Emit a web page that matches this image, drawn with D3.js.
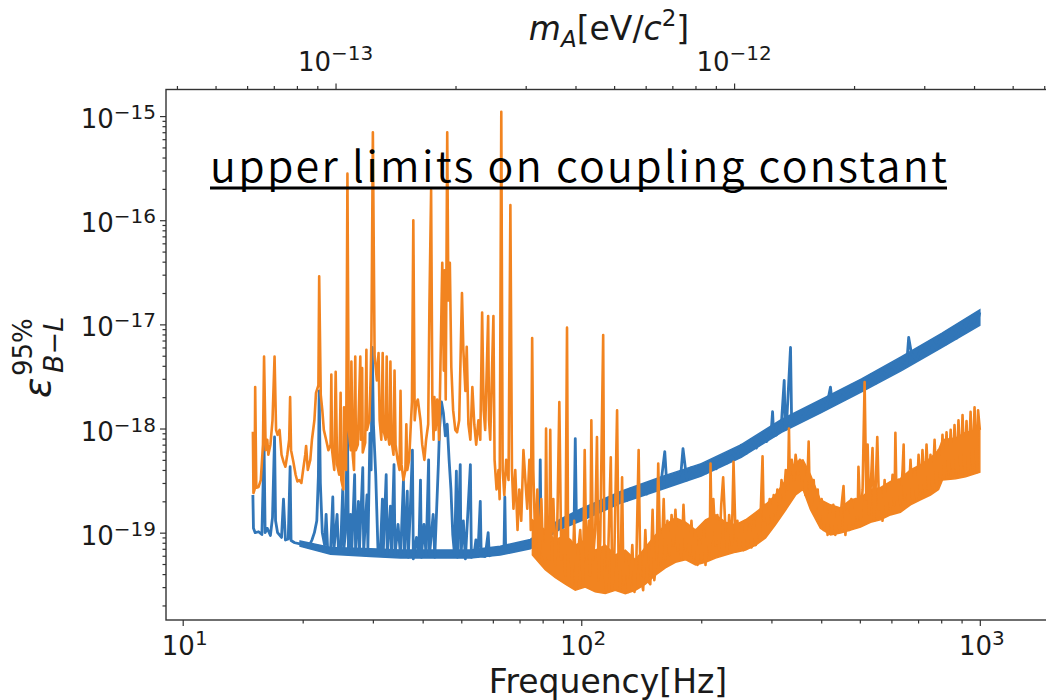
<!DOCTYPE html>
<html>
<head>
<meta charset="utf-8">
<script src="https://cdn.jsdelivr.net/npm/d3@7"></script>
<style>
  body { margin: 0; background: #fff; }
  svg { display: block; }
  text { font-family: "DejaVu Sans", sans-serif; fill: #1a1a1a; }
</style>
</head>
<body>
<svg id="chart" width="1046" height="700"></svg>
<script>
// ---- data: [frequency Hz, epsilon 95% upper limit] ----
const blueSeries = [
  [15.0,2.3e-19],[15.05,1.1e-19],[15.2,1.0e-19],[15.5,1.02e-19],[15.8,9.6e-20],[16.0,6.9e-19],[16.1,1.0e-19],[16.3,1.1e-19],
  [16.6,9.4e-20],[16.8,1.4e-19],[17.0,8.3e-19],[17.1,1.3e-19],[17.3,1.0e-19],[17.7,9.0e-20],[17.9,2.1e-19],[18.1,8.5e-20],
  [18.4,8.7e-20],[18.6,4.3e-19],[18.7,8.4e-20],[19.1,8.0e-20],[19.7,7.8e-20],[20.3,7.6e-20],[20.7,7.3e-20],[21.1,8.5e-20],
  [21.4,1.0e-19],[21.7,1.3e-19],[21.9,3.5e-19],[22.0,2.3e-18],[22.15,3.0e-19],[22.4,1.0e-19],[22.7,7.6e-20],[22.9,1.5e-19],
  [23.1,7.0e-20],[23.5,6.8e-20],[23.8,2.2e-19],[23.95,6.8e-20],[24.4,1.5e-19],[24.6,6.6e-20],[24.9,6.8e-20],[25.2,2.6e-19],
  [25.35,6.7e-20],[25.6,1.0e-19],[25.9,1.1e-18],[26.05,6.5e-20],[26.4,1.5e-19],[26.55,6.5e-20],[27.0,3.6e-19],[27.15,6.6e-20],
  [27.6,2.0e-19],[27.75,6.5e-20],[28.3,4.2e-19],[28.45,6.6e-20],[29.0,2.3e-19],[29.15,7.0e-20],[29.5,9.0e-19],[29.7,4.0e-19],
  [29.9,6.0e-18],[30.1,1.1e-18],[30.5,3.6e-19],[30.9,6.8e-20],[31.3,6.2e-20],[31.7,2.1e-19],[31.85,6.3e-20],[32.4,3.6e-19],
  [32.6,6.1e-20],[33.2,1.8e-19],[33.4,6.0e-20],[33.9,4.5e-19],[34.1,6.1e-20],[34.7,1.2e-19],[35.2,5.9e-20],[35.8,3.2e-19],
  [36.0,5.9e-20],[36.6,2.5e-19],[36.8,5.8e-20],[37.2,1.5e-19],[37.7,6.2e-19],[37.9,5.6e-20],[38.6,9.0e-20],[39.1,6.0e-20],
  [39.5,3.2e-19],[39.7,5.8e-20],[40.3,1.2e-19],[40.8,6.0e-20],[41.4,5.0e-19],[41.6,6.0e-20],[42.5,1.5e-19],[42.9,5.8e-20],
  [43.8,4.5e-19],[44.1,1.0e-18],[44.6,1.8e-18],[45.1,1.4e-18],[45.6,8.5e-19],[46.1,1.1e-18],[46.6,5.0e-19],[47.1,2.6e-19],
  [47.6,9.5e-20],[48.1,6.1e-20],[48.6,3.9e-19],[48.9,5.8e-20],[49.7,4.5e-19],[49.9,6.0e-20],[50.6,1.3e-19],[51.2,5.6e-20],
  [52.7,4.5e-19],[53.0,5.8e-20],[53.8,6.0e-20],[54.4,8.5e-20],[55.0,5.9e-20],[55.8,2.0e-19],[56.1,6.0e-20],[57.4,5.9e-20],
  [58.4,1.0e-19],[58.8,6.0e-20],[60.9,6.4e-20],[62.6,6.8e-20],[64.0,7.0e-20],[64.3,2.2e-19],[64.6,7.0e-20],[66.4,7.1e-20],
  [68.3,7.3e-20],[70.3,7.5e-20],[72.4,7.8e-20],[74.5,8.0e-20],[76.7,8.6e-20],[78.5,9.0e-20],[78.9,5.0e-19],[79.3,9.2e-20],
  [81.2,9.8e-20],[83.6,1.05e-19],[86.1,1.12e-19],[88.6,1.2e-19],[91.2,1.3e-19],[93.8,1.38e-19],[96.0,1.45e-19],[96.6,8.0e-19],
  [97.2,1.5e-19],[100,1.66e-19],[103,1.39e-19],[106,1.85e-19],[109,1.55e-19],[112,2.03e-19],[115,1.7e-19],[119,2.2e-19],
  [122,1.85e-19],[126,2.4e-19],[130,2.03e-19],[133,2.65e-19],[137,2.2e-19],[141,2.85e-19],[146,2.35e-19],[150,3.1e-19],
  [154,2.55e-19],[159,3.3e-19],[162,6.0e-19],[164,2.8e-19],[168,3.6e-19],[173,3.0e-19],[178,3.85e-19],[180,6.4e-19],
  [184,3.2e-19],[189,4.2e-19],[195,3.45e-19],[200,4.5e-19],[206,3.75e-19],[212,4.9e-19],[218,4.1e-19],[225,5.4e-19],
  [231,4.6e-19],[238,6.1e-19],[245,5.2e-19],[252,6.9e-19],[260,5.8e-19],[267,7.8e-19],[275,6.5e-19],[283,8.7e-19],
  [292,7.5e-19],[300,1.0e-18],[302,1.45e-18],[304,8.5e-19],[309,8.7e-19],[318,1.16e-18],[323,2.9e-18],[325,1.0e-18],
  [327,9.9e-19],[335,6.0e-18],[337,1.3e-18],[347,1.12e-18],[357,1.47e-18],[367,1.25e-18],[378,1.64e-18],[389,1.4e-18],
  [400,1.85e-18],[412,1.57e-18],[422,2.5e-18],[424,2.1e-18],[437,1.8e-18],[450,2.3e-18],[463,2.0e-18],[476,2.6e-18],
  [490,2.2e-18],[505,2.85e-18],[520,2.45e-18],[535,3.3e-18],[550,2.75e-18],[566,3.6e-18],[583,3.2e-18],[600,4.2e-18],
  [618,3.5e-18],[636,4.6e-18],[655,4.0e-18],[663,7.5e-18],[674,5.2e-18],[694,4.5e-18],[714,6.1e-18],[735,5.2e-18],
  [757,7.0e-18],[779,5.8e-18],[802,7.8e-18],[825,6.5e-18],[850,8.8e-18],[875,7.4e-18],[900,9.9e-18],[926,8.5e-18],
  [953,1.12e-17],[981,9.7e-18],[1000,1.3e-17]
];

// dense noise floor of the blue trace: [frequency Hz, lower edge, upper edge]
const blueBand = [
  [19.7,7.4e-20,8.3e-20],[23.5,6.2e-20,7.2e-20],[29.6,5.9e-20,7.0e-20],[35.2,5.7e-20,6.8e-20],[44.3,5.7e-20,6.8e-20],
  [52.7,5.7e-20,6.8e-20],[62.6,6.1e-20,7.4e-20],[74.5,7.0e-20,8.6e-20],[88.6,1.08e-19,1.35e-19],[100,1.3e-19,1.7e-19],
  [126,1.93e-19,2.5e-19],[159,2.6e-19,3.45e-19],[200,3.5e-19,4.6e-19],[252,5.3e-19,7.0e-19],[318,9.2e-19,1.22e-18],
  [400,1.42e-18,1.9e-18],[505,2.25e-18,3.0e-18],[636,3.6e-18,4.9e-18],[802,6.0e-18,8.2e-18],[1000,9.8e-18,1.38e-17]
];

const orangeSeries = [
  [15.0,9.3e-19],[15.05,2.4e-19],[15.15,2.6e-19],[15.2,2.5e-18],[15.3,2.7e-19],[15.5,2.75e-19],[15.7,3.2e-19],[15.9,7.0e-19],
  [16.0,4.9e-18],[16.15,6.2e-19],[16.3,7.8e-19],[16.4,5.6e-19],[16.6,7.0e-19],[16.8,1.2e-18],[17.0,4.9e-18],[17.15,9.7e-19],
  [17.3,8.7e-19],[17.5,9.7e-19],[17.7,5.6e-19],[17.9,4.8e-19],[18.1,4.3e-19],[18.3,5.6e-19],[18.5,7.8e-19],[18.6,2.0e-18],
  [18.7,6.2e-19],[18.95,4.8e-19],[19.2,3.6e-19],[19.4,3.1e-19],[19.6,3.2e-19],[19.85,3.0e-19],[20.05,4.0e-19],[20.3,5.6e-19],
  [20.4,6.8e-19],[20.6,4.0e-19],[20.9,5.0e-19],[21.1,7.8e-19],[21.4,1.2e-18],[21.6,2.2e-18],[21.9,2.6e-18],[22.0,2.9e-17],
  [22.2,2.1e-18],[22.4,1.5e-18],[22.6,9.7e-19],[22.9,7.8e-19],[23.2,6.2e-19],[23.5,7.0e-19],[23.6,3.3e-18],[23.7,6.2e-19],
  [24.0,4.0e-19],[24.2,3.5e-18],[24.4,4.5e-19],[24.7,3.6e-19],[24.9,2.2e-18],[25.0,3.2e-19],[25.3,2.6e-19],[25.4,1.6e-18],
  [25.7,4.0e-19],[25.9,2.8e-16],[26.1,9.7e-19],[26.4,6.2e-19],[26.5,4.4e-18],[26.7,5.6e-19],[26.9,4.0e-19],[27.1,4.9e-18],
  [27.2,6.2e-19],[27.5,7.0e-19],[27.9,4.9e-18],[28.0,7.8e-19],[28.2,3.8e-18],[28.3,5.9e-19],[28.7,7.3e-19],[28.9,5.7e-18],
  [29.0,9.7e-19],[29.4,1.2e-18],[29.6,2.9e-18],[29.75,7.1e-18],[30.0,7.0e-16],[30.3,5.1e-18],[30.7,2.9e-18],[31.0,5.3e-18],
  [31.2,1.2e-18],[31.5,7.8e-19],[31.75,5.3e-18],[31.9,9.7e-19],[32.3,7.8e-19],[32.5,4.9e-18],[32.6,9.7e-19],[33.0,7.0e-19],
  [33.2,4.4e-18],[33.4,7.8e-19],[33.8,5.6e-19],[34.0,3.6e-18],[34.2,7.0e-19],[34.6,5.0e-19],[35.0,4.0e-19],[35.2,2.3e-18],
  [35.4,4.5e-19],[35.8,3.2e-19],[36.2,4.0e-19],[36.4,1.1e-18],[36.6,4.0e-19],[37.0,5.0e-19],[37.4,1.2e-18],[37.6,1.8e-18],
  [37.9,1.0e-16],[38.2,1.2e-18],[38.5,1.7e-18],[38.9,1.9e-18],[39.5,1.2e-18],[39.9,7.0e-19],[40.4,5.0e-19],[40.8,7.8e-19],
  [41.3,1.1e-18],[41.6,1.6e-17],[42.0,1.95e-16],[42.3,1.9e-18],[42.6,7.8e-19],[42.8,2.0e-18],[43.1,9.7e-19],[43.5,1.9e-18],
  [44.0,7.8e-19],[44.8,3.9e-17],[45.2,3.6e-18],[45.4,3.3e-17],[45.7,1.9e-18],[46.1,7.0e-16],[46.4,1.7e-17],[46.8,3.9e-17],
  [47.2,3.9e-18],[47.7,1.5e-18],[48.3,9.7e-19],[48.8,9.2e-19],[49.4,1.2e-18],[50.2,2.0e-17],[50.6,5.7e-18],[51.2,2.3e-18],
  [51.6,6.1e-18],[52.1,1.1e-18],[52.7,7.8e-19],[53.3,2.5e-18],[53.9,1.1e-18],[54.5,7.0e-19],[55.2,1.2e-18],[55.8,7.8e-19],
  [56.4,1.3e-17],[56.9,1.5e-18],[57.4,9.7e-19],[58.4,1.2e-17],[58.7,1.2e-18],[59.1,7.8e-19],[60.2,1.2e-17],[60.6,5.0e-19],
  [61.3,2.6e-19],[62.0,4.0e-19],[62.4,2.1e-19],[63.0,1.1e-15],[63.5,4.0e-19],[64.1,2.3e-19],[64.8,5.0e-19],[65.7,3.2e-19],
  [66.4,1.4e-16],[67.0,4.0e-19],[67.6,1.7e-19],[68.3,4.0e-19],[69.2,1.06e-19],[69.9,2.6e-19],[70.7,1.3e-19],[71.6,6.2e-19],
  [72.4,3.2e-19],[73.2,1.7e-19],[74.1,5.0e-19],[74.7,1.06e-19],[75.3,7.4e-18],[75.8,4.0e-19],[76.7,7.6e-20],[77.6,2.6e-19],
  [78.5,5.5e-20],[79.4,2.1e-19],[80.2,6.1e-20],[81.2,5.5e-20],[81.6,1.0e-18],[82.2,6.1e-20],[83.1,5.5e-20],[83.6,9.7e-19],
  [84.1,8.5e-20],[85.1,2.1e-19],[86.1,4.9e-20],[87.1,1.3e-19],[88.1,1.8e-18],[89.1,5.5e-20],[90.1,1.06e-19],[91.2,3.9e-20],
  [92.1,9.3e-18],[92.7,5.5e-20],[93.8,8.5e-20],[94.9,3.2e-20],[96.0,1.3e-19],[97.2,3.0e-20],[98.3,6.8e-20],[99.4,1.06e-19],
  [101,3.2e-20],[102,6.2e-19],[103,5.5e-20],[104.5,1.3e-19],[105.3,3.9e-20],[106,1.2e-18],[107,5.5e-20],[108.4,1.06e-19],
  [109.5,8.3e-19],[110.5,3.5e-20],[111.6,8.5e-20],[113.5,7.9e-18],[114.3,4.4e-20],[115.6,2.8e-20],[117,7.6e-20],[118.6,5.3e-19],
  [119.6,2.8e-20],[121,5.5e-20],[123,1.5e-18],[124,6.1e-20],[125.3,2.8e-20],[126.6,3.4e-19],[127.6,3.2e-20],[129.8,5.5e-20],
  [131.3,2.7e-20],[132.8,3.5e-20],[134.3,7.6e-20],[136,2.7e-20],[137.5,5.5e-20],[139.3,6.2e-19],[140.7,3.9e-20],[143,2.8e-20],
  [144.8,1.06e-19],[146.5,3.5e-20],[149,3.2e-20],[151,1.66e-19],[152.5,3.5e-20],[154.5,5.5e-20],[156,4.6e-19],[158,4.9e-20],
  [160,1.06e-19],[161,2.1e-19],[162.6,5.5e-20],[164.5,1.3e-19],[166.5,6.1e-20],[168.5,1.48e-19],[170.3,7.6e-20],[172.3,1.66e-19],
  [174.4,6.8e-20],[176.3,1.3e-19],[178.4,5.5e-20],[180.5,1.85e-19],[182.6,6.8e-20],[184.8,1.19e-19],[187,6.1e-20],[189,1.3e-19],
  [191.3,5.5e-20],[193.5,1.06e-19],[195.8,4.9e-20],[198,8.5e-20],[200.5,5.5e-20],[203,1.06e-19],[205,4.9e-20],[207.5,1.3e-19],
  [210,6.1e-20],[211,4.6e-19],[212.5,8.5e-20],[214.5,2.1e-19],[217.3,7.6e-20],[219.5,1.48e-19],[222,6.8e-20],[224.5,1.85e-19],
  [227,3.4e-19],[230,1.06e-19],[232.5,6.8e-20],[235,1.48e-19],[238.5,7.6e-20],[241,4.8e-19],[244,8.5e-20],[246.5,1.3e-19],
  [249.5,6.8e-20],[252.5,1.19e-19],[255.5,6.8e-20],[258.5,1.3e-19],[261.5,7.6e-20],[264.5,1.19e-19],[267.5,7.2e-20],[270.8,1.3e-19],
  [274,7.6e-20],[277,1.48e-19],[280.5,8.5e-20],[285,5.4e-19],[287,1.3e-19],[290,1.85e-19],[293.5,1.19e-19],[297,2.1e-19],
  [300.5,1.3e-19],[304,2.3e-19],[307,1.48e-19],[310.5,2.6e-19],[314.5,1.85e-19],[318,3.2e-19],[322,2.1e-19],[326,4.0e-19],
  [330,2.6e-19],[332,1.0e-18],[333.5,3.6e-19],[337.5,5.0e-19],[341.5,3.2e-19],[345,5.6e-19],[349.5,3.6e-19],[353.5,5.0e-19],
  [357.5,3.2e-19],[362,4.5e-19],[365,2.3e-19],[370,4.0e-19],[372,7.5e-19],[374,2.6e-19],[378,1.85e-19],[383,3.2e-19],
  [387,1.66e-19],[392,2.6e-19],[396,1.3e-19],[401,2.1e-19],[406,1.06e-19],[410,1.85e-19],[415,9.5e-20],[420,1.66e-19],
  [425,1.06e-19],[429,1.85e-19],[434,9.5e-20],[439.5,1.66e-19],[444.5,1.06e-19],[450,1.85e-19],[455,2.8e-19],[460,9.5e-20],
  [465,1.66e-19],[471,1.06e-19],[476,2.1e-19],[482,1.19e-19],[488,2.1e-19],[493.5,1.3e-19],[496,4.3e-19],[502,1.3e-19],
  [508,2.6e-19],[514,2.8e-18],[519,2.1e-19],[523,7.0e-19],[528,1.48e-19],[532,2.6e-19],[538,6.5e-19],[543,1.3e-19],
  [547,2.3e-19],[553,8.3e-19],[559,1.66e-19],[563,2.6e-19],[570,1.3e-19],[577,3.2e-19],[583,1.48e-19],[590,2.9e-19],
  [597,1.66e-19],[604,3.6e-19],[611,1.85e-19],[614,9.1e-19],[618,2.1e-19],[625,3.2e-19],[632,1.85e-19],[640,4.0e-19],
  [644,7.0e-19],[647,2.1e-19],[655,3.6e-19],[662,1.85e-19],[670,5.0e-19],[678,2.1e-19],[686,4.0e-19],[694,2.1e-19],
  [702,5.6e-19],[710,2.3e-19],[718,6.2e-19],[727,2.3e-19],[735,7.0e-19],[744,2.6e-19],[752,5.6e-19],[761,2.6e-19],
  [770,7.8e-19],[779,2.7e-19],[788,6.2e-19],[797,3.2e-19],[806,8.7e-19],[815,3.3e-19],[825,9.2e-19],[835,3.6e-19],
  [845,9.7e-19],[855,3.5e-19],[864,1.08e-18],[874,3.7e-19],[884,1.2e-18],[895,3.8e-19],[905,1.35e-18],[916,3.7e-19],
  [926,1.18e-18],[937,3.8e-19],[948,1.45e-18],[959,4.0e-19],[970,1.6e-18],[982,3.8e-19],[990,1.5e-18],[1000,9.7e-19]
];

// dense noise floor of the orange trace: [frequency Hz, lower edge, upper edge]
const orangeBand = [
  [75.4,6.1e-20,1.33e-19],[81.2,4.4e-20,1.06e-19],[86.1,3.7e-20,8.5e-20],[91.2,3.2e-20,9.5e-20],[96.6,2.8e-20,7.6e-20],
  [102.3,3.0e-20,8.5e-20],[108.4,2.7e-20,6.8e-20],[114.9,2.6e-20,7.6e-20],[121.7,2.8e-20,6.1e-20],[129,2.6e-20,6.8e-20],
  [136.7,2.8e-20,5.5e-20],[144.8,3.2e-20,7.2e-20],[153.5,3.9e-20,9.5e-20],[162.6,4.6e-20,1.19e-19],[172.3,5.2e-20,1.39e-19],
  [182.6,5.5e-20,1.26e-19],[193.5,4.9e-20,1.06e-19],[205,5.2e-20,1.33e-19],[217.3,5.7e-20,1.48e-19],[230.2,6.1e-20,1.26e-19],
  [244,6.5e-20,1.19e-19],[258.5,6.8e-20,1.33e-19],[274,7.6e-20,1.57e-19],[290,8.9e-20,1.85e-19],[307,1.19e-19,2.3e-19],
  [326,1.66e-19,3.2e-19],[345,2.3e-19,4.8e-19],[360,2.6e-19,5.0e-19],[376,1.66e-19,3.6e-19],[398,1.1e-19,2.07e-19],
  [422,9.5e-20,1.85e-19],[447,9.9e-20,1.73e-19],[474,1.06e-19,2.07e-19],[502,1.13e-19,2.15e-19],[532,1.26e-19,2.6e-19],
  [563,1.33e-19,2.7e-19],[597,1.48e-19,3.1e-19],[632,1.57e-19,3.3e-19],[670,1.85e-19,4.0e-19],[710,2.07e-19,4.5e-19],
  [752,2.3e-19,5.2e-19],[788,2.6e-19,6.2e-19],[806,3.2e-19,7.8e-19],[869,3.3e-19,8.1e-19],[921,3.45e-19,9.2e-19],
  [1000,3.8e-19,9.7e-19]
];

const freqTicks = [10, 100, 1000];
const massTicks = [1e-13, 1e-12];
const epsTicks = [1e-19, 1e-18, 1e-17, 1e-16, 1e-15];
const freqDomain = [9.08, 1500];
const epsDomain = [1.45e-20, 1.8e-15];
const planckEvS = 4.135667e-15;   // m_A c^2 = h f
const title = "upper limits on coupling constant";

// ---- layout ----
var plotL = 166, plotR = 1050, plotT = 89.5, plotB = 620;
var blue = "#3176b8", orange = "#f28420";
var svg = d3.select("#chart");

var x = d3.scaleLog().domain(freqDomain).range([plotL, plotR]);
var xTop = d3.scaleLog().domain(freqDomain.map(function(f) { return f * planckEvS; })).range([plotL, plotR]);
var y = d3.scaleLog().domain(epsDomain).range([plotB, plotT]);

function minorTicks(scale) {
  var d = scale.domain(), out = [];
  var e0 = Math.floor(Math.log10(d[0])), e1 = Math.ceil(Math.log10(d[1]));
  for (var e = e0; e <= e1; e++) {
    for (var k = 2; k <= 9; k++) {
      var v = k * Math.pow(10, e);
      if (v >= d[0] && v <= d[1]) out.push(v);
    }
  }
  return out;
}

svg.append("defs").append("clipPath").attr("id", "plotclip")
  .append("rect").attr("x", plotL).attr("y", plotT)
  .attr("width", plotR - plotL).attr("height", plotB - plotT);

// ---- traces ----
var line = d3.line()
  .x(function(d) { return x(d[0]); })
  .y(function(d) { return y(d[1]); });
var band = d3.area()
  .x(function(d) { return x(d[0]); })
  .y0(function(d) { return y(d[1]); })
  .y1(function(d) { return y(d[2]); });

var plot = svg.append("g").attr("clip-path", "url(#plotclip)");
plot.append("path").datum(blueBand).attr("d", band)
  .attr("fill", blue).attr("stroke", blue).attr("stroke-width", 1.5);
plot.append("path").datum(blueSeries)
  .attr("d", line).attr("fill", "none")
  .attr("stroke", blue).attr("stroke-width", 2.8).attr("stroke-linejoin", "round");
plot.append("path").datum(orangeBand).attr("d", band)
  .attr("fill", orange).attr("stroke", orange).attr("stroke-width", 1.5);
plot.append("path").datum(orangeSeries)
  .attr("d", line).attr("fill", "none")
  .attr("stroke", orange).attr("stroke-width", 2.6).attr("stroke-linejoin", "round");

// ---- axes (ticks only, spines drawn separately) ----
function tickAxis(axisFn, scale, values, size, transform) {
  var g = svg.append("g").attr("transform", transform).attr("color", "#333")
    .call(axisFn(scale).tickValues(values).tickSize(size).tickSizeOuter(0).tickFormat(""));
  g.select(".domain").remove();
  g.selectAll("line").attr("stroke-width", 1.2);
}
tickAxis(d3.axisBottom, x, freqTicks, 6, "translate(0," + plotB + ")");
tickAxis(d3.axisBottom, x, minorTicks(x), 3.5, "translate(0," + plotB + ")");
tickAxis(d3.axisTop, xTop, massTicks, 6, "translate(0," + plotT + ")");
tickAxis(d3.axisTop, xTop, minorTicks(xTop), 3.5, "translate(0," + plotT + ")");
tickAxis(d3.axisLeft, y, epsTicks, 6, "translate(" + plotL + ",0)");
tickAxis(d3.axisLeft, y, minorTicks(y), 3.5, "translate(" + plotL + ",0)");

// spines
svg.append("rect").attr("x", plotL).attr("y", plotT)
  .attr("width", plotR - plotL).attr("height", plotB - plotT)
  .attr("fill", "none").attr("stroke", "#333").attr("stroke-width", 1.4);

// power-of-ten labels
function powerLabel(value, px, py, anchor, supDy) {
  var e = Math.round(Math.log10(value));
  var t = svg.append("text").attr("x", px).attr("y", py)
    .attr("text-anchor", anchor).style("font-size", "26px");
  t.append("tspan").text("10");
  t.append("tspan").attr("dy", supDy).style("font-size", "20px")
    .text(e < 0 ? "\u2212" + (-e) : String(e));
}
freqTicks.forEach(function(v) { powerLabel(v, x(v) + 2, 655, "middle", -10); });
massTicks.forEach(function(v) { powerLabel(v, xTop(v), 71, "middle", -11); });
epsTicks.forEach(function(v) { powerLabel(v, 156, y(v) + 12, "end", -9); });

// axis titles
svg.append("text").attr("x", 608).attr("y", 693)
  .attr("text-anchor", "middle").style("font-size", "33px").text("Frequency[Hz]");

var tl = svg.append("text").attr("x", 609).attr("y", 40)
  .attr("text-anchor", "middle").style("font-size", "33px");
tl.append("tspan").attr("font-style", "italic").text("m");
tl.append("tspan").attr("font-style", "italic").style("font-size", "23px").attr("dy", 7).text("A");
tl.append("tspan").attr("dy", -7).text("[eV/");
tl.append("tspan").attr("font-style", "italic").text("c");
tl.append("tspan").style("font-size", "23px").attr("dy", -14).text("2");
tl.append("tspan").attr("dy", 14).text("]");

var yl = svg.append("text").attr("transform", "translate(50,398) rotate(-90)")
  .style("font-size", "38px");
yl.append("tspan").attr("font-style", "italic").text("\u03b5");
yl.append("tspan").attr("x", 22).attr("dy", -18).style("font-size", "26px").text("95%");
yl.append("tspan").attr("x", 25).attr("dy", 31).style("font-size", "27px")
  .attr("font-style", "italic").text("B\u2212L");

// overlaid underlined caption
svg.append("text").attr("x", 210).attr("y", 181.5)
  .style("font-family", "'Noto Sans CJK JP', 'Noto Sans', sans-serif")
  .style("font-weight", 350)
  .style("font-size", "43px").attr("textLength", 737).attr("lengthAdjust", "spacing")
  .style("fill", "#000").text(title);
svg.append("line").attr("x1", 210).attr("x2", 947).attr("y1", 188).attr("y2", 188)
  .attr("stroke", "#000").attr("stroke-width", 3);
</script>
</body>
</html>
